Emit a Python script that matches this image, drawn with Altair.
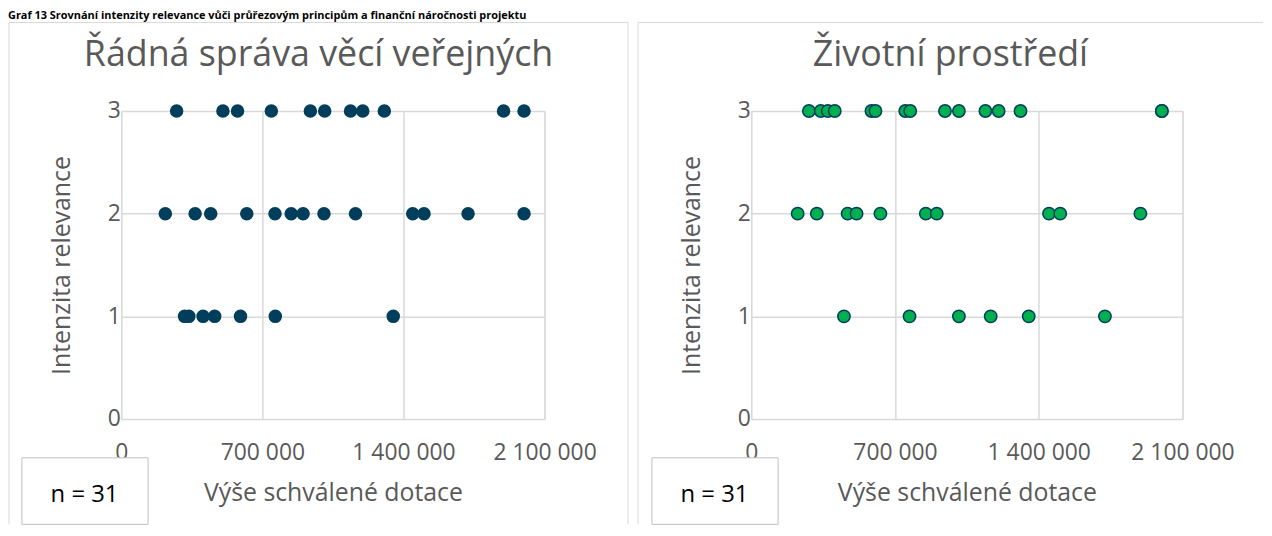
import altair as alt
import pandas as pd

# ---- data ----
main_title = "Graf 13 Srovnání intenzity relevance vůči průřezovým principům a finanční náročnosti projektu"
panel_titles = ["Řádná správa věcí veřejných", "Životní prostředí"]
x_title = "Výše schválené dotace"
y_title = "Intenzita relevance"
n_label = "n = 31"
x_ticks = [0, 700000, 1400000, 2100000]
y_ticks = [0, 1, 2, 3]

# Řádná správa věcí veřejných
rs_level3 = [274600, 504300, 576800, 744400, 938100, 1009100, 1137300, 1197900, 1304900, 1896500, 1998000]
rs_level2 = [218400, 366300, 443700, 622600, 762600, 843000, 902100, 1005600, 1161900, 1445800, 1502000, 1720400, 1998000]
rs_level1 = [314000, 335200, 405700, 463400, 591500, 764100, 1349200]

# Životní prostředí
zp_level3 = [280600, 338600, 372500, 406400, 585300, 604700, 749800, 774000, 943300, 1011100, 1140200, 1204600, 1311000, 1999400, 1999400]
zp_level2 = [225900, 319300, 469200, 512800, 628900, 850000, 903200, 1449800, 1504500, 1894900]
zp_level1 = [451400, 770600, 1011100, 1165900, 1351200, 1722200]


def frame(l3, l2, l1):
    amounts = l3 + l2 + l1
    levels = [3] * len(l3) + [2] * len(l2) + [1] * len(l1)
    return pd.DataFrame({"amount": amounts, "level": levels})


FONT = "Open Sans"
GREY = "#595959"
GRID = "#D9D9D9"
NAVY = "#003E5C"
GREEN = "#00B050"
one = pd.DataFrame({"k": [0]})
TOP = -89


def panel(df, title, width, left_edge, right_edge, fill, stroke=None):
    height = 310
    x = alt.X(
        "amount:Q",
        scale=alt.Scale(domain=[0, 2100000], nice=False, zero=True),
        axis=alt.Axis(
            values=x_ticks,
            labelExpr="replace(format(datum.value, ','), regexp(',', 'g'), ' ')",
            title=x_title,
            grid=True, gridColor=GRID, gridWidth=1.5,
            domain=False, ticks=False, labelFlush=False,
            labelFont=FONT, labelFontSize=23, labelColor=GREY, labelPadding=23,
            titleFont=FONT, titleFontSize=25, titleColor=GREY, titleFontWeight="normal",
            titlePadding=16,
        ),
    )
    y = alt.Y(
        "level:Q",
        scale=alt.Scale(domain=[0, 3], nice=False),
        axis=alt.Axis(
            values=y_ticks, format="d", title=y_title,
            grid=True, gridColor=GRID, gridWidth=1.5,
            domain=False, ticks=False, labelFlush=False,
            labelFont=FONT, labelFontSize=23, labelColor=GREY, labelPadding=1,
            titleFont=FONT, titleFontSize=25, titleColor=GREY, titleFontWeight="normal",
            titlePadding=33,
        ),
    )
    if stroke:
        pts = alt.Chart(df).mark_circle(size=155, color=fill, opacity=1, stroke=stroke, strokeWidth=1.5)
    else:
        pts = alt.Chart(df).mark_circle(size=185, color=fill, opacity=1)
    pts = pts.encode(x=x, y=y)

    b = alt.Chart(one)
    left_rule = b.mark_rule(color=GRID, strokeWidth=1).encode(
        x=alt.value(left_edge), y=alt.value(TOP), y2=alt.value(416))
    top_rule = b.mark_rule(color=GRID, strokeWidth=1).encode(
        x=alt.value(left_edge), x2=alt.value(right_edge), y=alt.value(TOP))
    layers = [left_rule, top_rule]
    if right_edge < 512:
        layers.append(b.mark_rule(color=GRID, strokeWidth=1).encode(
            x=alt.value(right_edge), y=alt.value(TOP), y2=alt.value(416)))
    box = b.mark_rect(fill="white", stroke="#BFBFBF", strokeWidth=1).encode(
        x=alt.value(-100), x2=alt.value(27), y=alt.value(349), y2=alt.value(416))
    ntext = b.mark_text(font=FONT, fontSize=24, color="black", align="center", baseline="middle").encode(
        x=alt.value(-37), y=alt.value(386), text=alt.value(n_label))
    center = (left_edge + right_edge) / 2
    ttext = b.mark_text(font=FONT, fontSize=36, color=GREY, align="center", baseline="middle").encode(
        x=alt.value(center), y=alt.value(-56), text=alt.value(title))
    layers += [box, ntext, ttext, pts]
    return alt.layer(*layers).properties(width=width, height=height)


left = panel(frame(rs_level3, rs_level2, rs_level1), panel_titles[0], 426, -113, 510, NAVY)
right = panel(frame(zp_level3, zp_level2, zp_level1), panel_titles[1], 434, -114, 515, GREEN, NAVY)

chart = (
    alt.hconcat(left, right, spacing=8)
    .properties(
        padding=0,
        title=alt.TitleParams(main_title, anchor="start", fontSize=11, fontWeight="bold",
                              color="black", font=FONT, offset=1),
    )
    .configure_view(stroke=None)
    .configure(background="white")
)

chart.save("out.html", embed_options={"renderer": "svg", "actions": False})
